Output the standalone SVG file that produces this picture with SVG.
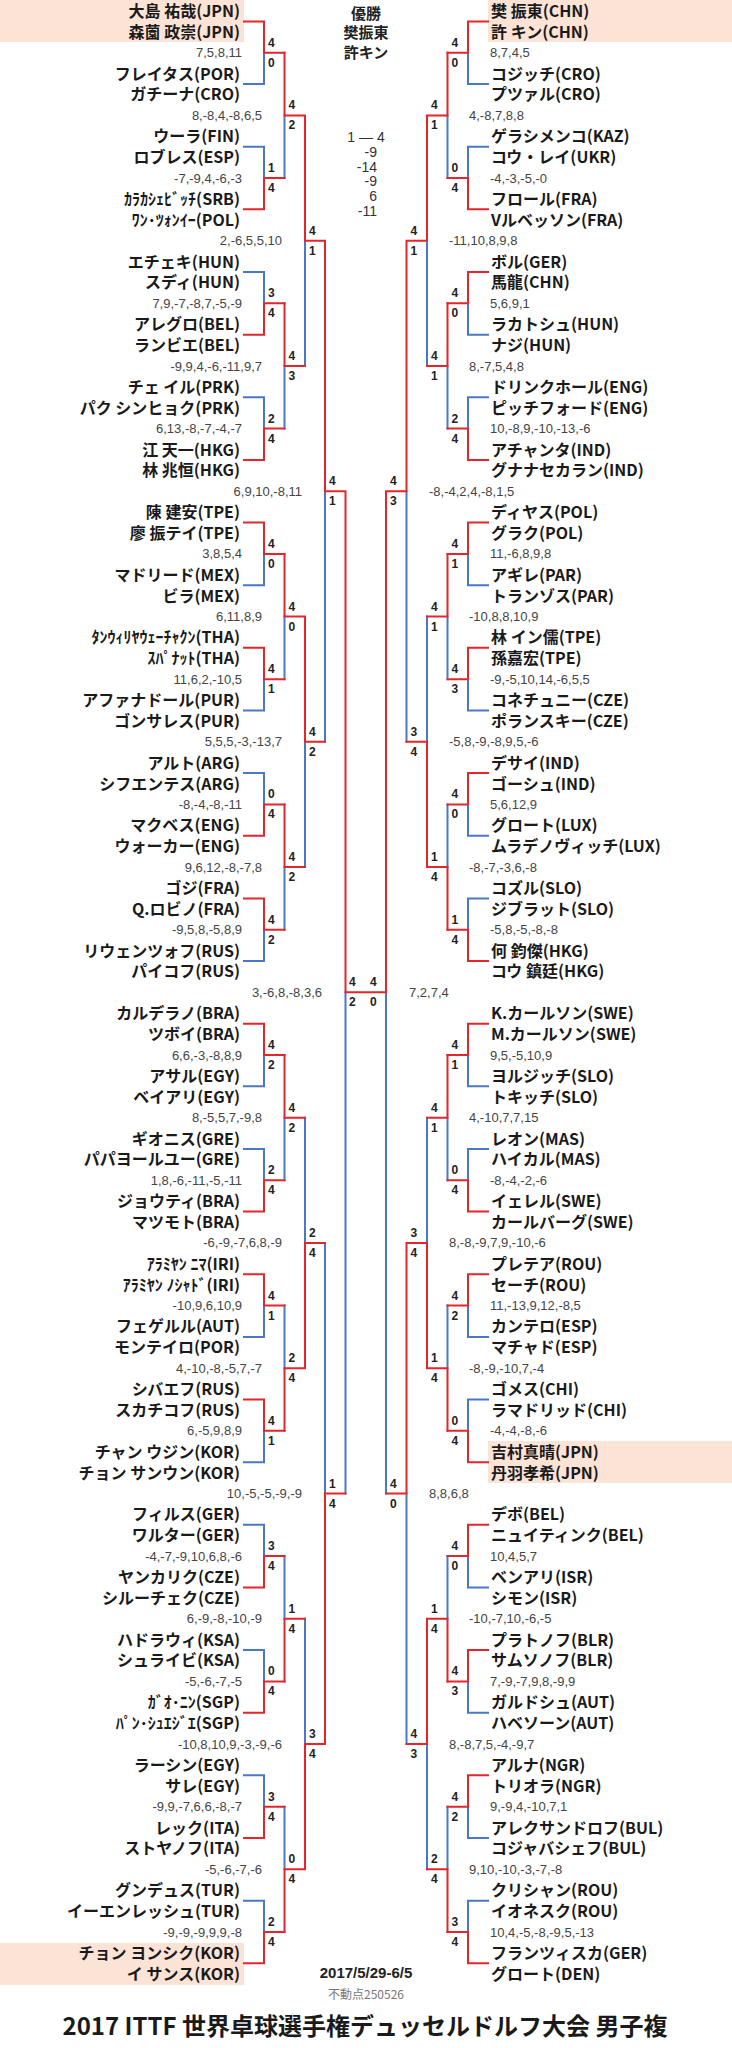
<svg xmlns="http://www.w3.org/2000/svg" width="732" height="2048" viewBox="0 0 732 2048">
<style>
.n{font-family:"Noto Sans CJK JP","Noto Sans",sans-serif;font-size:16px;font-weight:bold;fill:#1a1a1a}
.e{text-anchor:end}
.s{font-family:"Liberation Sans",Arial,sans-serif;font-size:13px;fill:#444}
.g{font-family:"Liberation Sans",Arial,sans-serif;font-size:12px;font-weight:bold;fill:#222}
.c{font-family:"Noto Sans CJK JP",sans-serif;font-size:15px;font-weight:bold;fill:#222;text-anchor:middle}
.f{font-family:"Liberation Sans",Arial,sans-serif;font-size:14px;fill:#333}
path{fill:none;stroke-width:2;stroke-linecap:square}
.r{stroke:#e3262b}
.b{stroke:#4a78c8}
.hl{fill:#fbe3d6}
</style>
<rect width="732" height="2048" fill="#fff"/>
<g id="highlights">
<rect class="hl" x="0" y="0" width="244" height="42"/>
<rect class="hl" x="0" y="1943" width="244" height="42"/>
<rect class="hl" x="488" y="0" width="244" height="42"/>
<rect class="hl" x="488" y="1441" width="244" height="42"/>
</g>
<g id="connectors" transform="matrix(1 0 0 20.88 0 11)">
<path class="b" vector-effect="non-scaling-stroke" d="M244 3.5H264V2M244 6.5H264V8M244 12.5H264V14M244 18.5H264V20M244 27.5H264V26M244 33.5H264V32M244 36.5H264V38M244 45.5H264V44M244 51.5H264V50M244 54.5H264V56M244 63.5H264V62M244 69.5H264V68M244 72.5H264V74M244 78.5H264V80M244 84.5H264V86M244 90.5H264V92"/>
<path class="b" vector-effect="non-scaling-stroke" d="M284.5 8V5M284.5 20V17M284.5 32V29M284.5 44V41M284.5 56V53M284.5 62V65M284.5 74V77M284.5 86V89M305 17V11M305 41V35M305 53V59M305 77V83M325 35V23M325 59V71M345.5 71V47"/>
<path class="b" vector-effect="non-scaling-stroke" d="M488 3.5H468V2M488 6.5H468V8M488 15.5H468V14M488 18.5H468V20M488 27.5H468V26M488 33.5H468V32M488 39.5H468V38M488 42.5H468V44M488 51.5H468V50M488 54.5H468V56M488 63.5H468V62M488 66.5H468V68M488 75.5H468V74M488 81.5H468V80M488 87.5H468V86M488 90.5H468V92"/>
<path class="b" vector-effect="non-scaling-stroke" d="M447.5 8V5M447.5 20V17M447.5 32V29M447.5 38V41M447.5 56V53M447.5 62V65M447.5 74V77M447.5 86V89M427 17V11M427 29V35M427 53V59M427 89V83M406.5 35V23M406.5 83V71M386 71V47"/>
<path class="r" vector-effect="non-scaling-stroke" d="M244 0.5H264V2H284.5M244 9.5H264V8H284.5M244 15.5H264V14H284.5M244 21.5H264V20H284.5M244 24.5H264V26H284.5M244 30.5H264V32H284.5M244 39.5H264V38H284.5M244 42.5H264V44H284.5M244 48.5H264V50H284.5M244 57.5H264V56H284.5M244 60.5H264V62H284.5M244 66.5H264V68H284.5M244 75.5H264V74H284.5M244 81.5H264V80H284.5M244 87.5H264V86H284.5M244 93.5H264V92H284.5"/>
<path class="r" vector-effect="non-scaling-stroke" d="M284.5 2V5H305M284.5 14V17H305M284.5 26V29H305M284.5 38V41H305M284.5 50V53H305M284.5 68V65H305M284.5 80V77H305M284.5 92V89H305M305 5V11H325M305 29V35H325M305 65V59H325M305 89V83H325M325 11V23H345.5M325 83V71H345.5M345.5 23V47H386"/>
<path class="r" vector-effect="non-scaling-stroke" d="M488 0.5H468V2H447.5M488 9.5H468V8H447.5M488 12.5H468V14H447.5M488 21.5H468V20H447.5M488 24.5H468V26H447.5M488 30.5H468V32H447.5M488 36.5H468V38H447.5M488 45.5H468V44H447.5M488 48.5H468V50H447.5M488 57.5H468V56H447.5M488 60.5H468V62H447.5M488 69.5H468V68H447.5M488 72.5H468V74H447.5M488 78.5H468V80H447.5M488 84.5H468V86H447.5M488 93.5H468V92H447.5"/>
<path class="r" vector-effect="non-scaling-stroke" d="M447.5 2V5H427M447.5 14V17H427M447.5 26V29H427M447.5 44V41H427M447.5 50V53H427M447.5 68V65H427M447.5 80V77H427M447.5 92V89H427M427 5V11H406.5M427 41V35H406.5M427 65V59H406.5M427 77V83H406.5M406.5 11V23H386M406.5 59V71H386M386 23V47"/>
</g>
<g id="games" class="g">
<text x="268" y="46.8">4<tspan x="268" dy="20">0</tspan></text>
<text x="268" y="172">1<tspan x="268" dy="20">4</tspan></text>
<text x="268" y="297.3">3<tspan x="268" dy="20">4</tspan></text>
<text x="268" y="422.6">2<tspan x="268" dy="20">4</tspan></text>
<text x="268" y="547.9">4<tspan x="268" dy="20">0</tspan></text>
<text x="268" y="673.2">4<tspan x="268" dy="20">1</tspan></text>
<text x="268" y="798.4">0<tspan x="268" dy="20">4</tspan></text>
<text x="268" y="923.7">4<tspan x="268" dy="20">2</tspan></text>
<text x="268" y="1049">4<tspan x="268" dy="20">2</tspan></text>
<text x="268" y="1174.3">2<tspan x="268" dy="20">4</tspan></text>
<text x="268" y="1299.6">4<tspan x="268" dy="20">1</tspan></text>
<text x="268" y="1424.8">4<tspan x="268" dy="20">1</tspan></text>
<text x="268" y="1550.1">3<tspan x="268" dy="20">4</tspan></text>
<text x="268" y="1675.4">0<tspan x="268" dy="20">4</tspan></text>
<text x="268" y="1800.7">3<tspan x="268" dy="20">4</tspan></text>
<text x="268" y="1926">2<tspan x="268" dy="20">4</tspan></text>
<text x="288.5" y="109.4">4<tspan x="288.5" dy="20">2</tspan></text>
<text x="288.5" y="360">4<tspan x="288.5" dy="20">3</tspan></text>
<text x="288.5" y="610.5">4<tspan x="288.5" dy="20">0</tspan></text>
<text x="288.5" y="861.1">4<tspan x="288.5" dy="20">2</tspan></text>
<text x="288.5" y="1111.6">4<tspan x="288.5" dy="20">2</tspan></text>
<text x="288.5" y="1362.2">2<tspan x="288.5" dy="20">4</tspan></text>
<text x="288.5" y="1612.8">1<tspan x="288.5" dy="20">4</tspan></text>
<text x="288.5" y="1863.3">0<tspan x="288.5" dy="20">4</tspan></text>
<text x="309" y="234.7">4<tspan x="309" dy="20">1</tspan></text>
<text x="309" y="735.8">4<tspan x="309" dy="20">2</tspan></text>
<text x="309" y="1236.9">2<tspan x="309" dy="20">4</tspan></text>
<text x="309" y="1738">3<tspan x="309" dy="20">4</tspan></text>
<text x="329" y="485.2">4<tspan x="329" dy="20">1</tspan></text>
<text x="329" y="1487.5">1<tspan x="329" dy="20">4</tspan></text>
<text x="349" y="986.4">4<tspan x="349" dy="20">2</tspan></text>
<text x="451.5" y="46.8">4<tspan x="451.5" dy="20">0</tspan></text>
<text x="451.5" y="172">0<tspan x="451.5" dy="20">4</tspan></text>
<text x="451.5" y="297.3">4<tspan x="451.5" dy="20">0</tspan></text>
<text x="451.5" y="422.6">2<tspan x="451.5" dy="20">4</tspan></text>
<text x="451.5" y="547.9">4<tspan x="451.5" dy="20">1</tspan></text>
<text x="451.5" y="673.2">4<tspan x="451.5" dy="20">3</tspan></text>
<text x="451.5" y="798.4">4<tspan x="451.5" dy="20">0</tspan></text>
<text x="451.5" y="923.7">1<tspan x="451.5" dy="20">4</tspan></text>
<text x="451.5" y="1049">4<tspan x="451.5" dy="20">1</tspan></text>
<text x="451.5" y="1174.3">0<tspan x="451.5" dy="20">4</tspan></text>
<text x="451.5" y="1299.6">4<tspan x="451.5" dy="20">2</tspan></text>
<text x="451.5" y="1424.8">0<tspan x="451.5" dy="20">4</tspan></text>
<text x="451.5" y="1550.1">4<tspan x="451.5" dy="20">0</tspan></text>
<text x="451.5" y="1675.4">4<tspan x="451.5" dy="20">3</tspan></text>
<text x="451.5" y="1800.7">4<tspan x="451.5" dy="20">2</tspan></text>
<text x="451.5" y="1926">3<tspan x="451.5" dy="20">4</tspan></text>
<text x="431" y="109.4">4<tspan x="431" dy="20">1</tspan></text>
<text x="431" y="360">4<tspan x="431" dy="20">1</tspan></text>
<text x="431" y="610.5">4<tspan x="431" dy="20">1</tspan></text>
<text x="431" y="861.1">1<tspan x="431" dy="20">4</tspan></text>
<text x="431" y="1111.6">4<tspan x="431" dy="20">1</tspan></text>
<text x="431" y="1362.2">1<tspan x="431" dy="20">4</tspan></text>
<text x="431" y="1612.8">1<tspan x="431" dy="20">4</tspan></text>
<text x="431" y="1863.3">2<tspan x="431" dy="20">4</tspan></text>
<text x="410.5" y="234.7">4<tspan x="410.5" dy="20">1</tspan></text>
<text x="410.5" y="735.8">3<tspan x="410.5" dy="20">4</tspan></text>
<text x="410.5" y="1236.9">3<tspan x="410.5" dy="20">4</tspan></text>
<text x="410.5" y="1738">4<tspan x="410.5" dy="20">3</tspan></text>
<text x="390" y="485.2">4<tspan x="390" dy="20">3</tspan></text>
<text x="390" y="1487.5">4<tspan x="390" dy="20">0</tspan></text>
<text x="370" y="986.4">4<tspan x="370" dy="20">0</tspan></text>
</g>
<g id="scores" class="s">
<text class="e" x="242" y="57.3">7,5,8,11</text>
<text class="e" x="262" y="119.9">8,-8,4,-8,6,5</text>
<text class="e" x="242" y="182.5">-7,-9,4,-6,-3</text>
<text class="e" x="282" y="245.2">2,-6,5,5,10</text>
<text class="e" x="242" y="307.8">7,9,-7,-8,7,-5,-9</text>
<text class="e" x="262" y="370.5">-9,9,4,-6,-11,9,7</text>
<text class="e" x="242" y="433.1">6,13,-8,-7,-4,-7</text>
<text class="e" x="302" y="495.7">6,9,10,-8,11</text>
<text class="e" x="242" y="558.4">3,8,5,4</text>
<text class="e" x="262" y="621">6,11,8,9</text>
<text class="e" x="242" y="683.7">11,6,2,-10,5</text>
<text class="e" x="282" y="746.3">5,5,5,-3,-13,7</text>
<text class="e" x="242" y="808.9">-8,-4,-8,-11</text>
<text class="e" x="262" y="871.6">9,6,12,-8,-7,8</text>
<text class="e" x="242" y="934.2">-9,5,8,-5,8,9</text>
<text class="e" x="322" y="996.9">3,-6,8,-8,3,6</text>
<text class="e" x="242" y="1059.5">6,6,-3,-8,8,9</text>
<text class="e" x="262" y="1122.1">8,-5,5,7,-9,8</text>
<text class="e" x="242" y="1184.8">1,8,-6,-11,-5,-11</text>
<text class="e" x="282" y="1247.4">-6,-9,-7,6,8,-9</text>
<text class="e" x="242" y="1310.1">-10,9,6,10,9</text>
<text class="e" x="262" y="1372.7">4,-10,-8,-5,7,-7</text>
<text class="e" x="242" y="1435.3">6,-5,9,8,9</text>
<text class="e" x="302" y="1498">10,-5,-5,-9,-9</text>
<text class="e" x="242" y="1560.6">-4,-7,-9,10,6,8,-6</text>
<text class="e" x="262" y="1623.3">6,-9,-8,-10,-9</text>
<text class="e" x="242" y="1685.9">-5,-6,-7,-5</text>
<text class="e" x="282" y="1748.5">-10,8,10,9,-3,-9,-6</text>
<text class="e" x="242" y="1811.2">-9,9,-7,6,6,-8,-7</text>
<text class="e" x="262" y="1873.8">-5,-6,-7,-6</text>
<text class="e" x="242" y="1936.5">-9,-9,-9,9,9,-8</text>
<text x="490" y="57.3">8,7,4,5</text>
<text x="469" y="119.9">4,-8,7,8,8</text>
<text x="490" y="182.5">-4,-3,-5,-0</text>
<text x="449" y="245.2">-11,10,8,9,8</text>
<text x="490" y="307.8">5,6,9,1</text>
<text x="469" y="370.5">8,-7,5,4,8</text>
<text x="490" y="433.1">10,-8,9,-10,-13,-6</text>
<text x="429" y="495.7">-8,-4,2,4,-8,1,5</text>
<text x="490" y="558.4">11,-6,8,9,8</text>
<text x="469" y="621">-10,8,8,10,9</text>
<text x="490" y="683.7">-9,-5,10,14,-6,5,5</text>
<text x="449" y="746.3">-5,8,-9,-8,9,5,-6</text>
<text x="490" y="808.9">5,6,12,9</text>
<text x="469" y="871.6">-8,-7,-3,6,-8</text>
<text x="490" y="934.2">-5,8,-5,-8,-8</text>
<text x="409" y="996.9">7,2,7,4</text>
<text x="490" y="1059.5">9,5,-5,10,9</text>
<text x="469" y="1122.1">4,-10,7,7,15</text>
<text x="490" y="1184.8">-8,-4,-2,-6</text>
<text x="449" y="1247.4">8,-8,-9,7,9,-10,-6</text>
<text x="490" y="1310.1">11,-13,9,12,-8,5</text>
<text x="469" y="1372.7">-8,-9,-10,7,-4</text>
<text x="490" y="1435.3">-4,-4,-8,-6</text>
<text x="429" y="1498">8,8,6,8</text>
<text x="490" y="1560.6">10,4,5,7</text>
<text x="469" y="1623.3">-10,-7,10,-6,-5</text>
<text x="490" y="1685.9">7,-9,-7,9,8,-9,9</text>
<text x="449" y="1748.5">8,-8,7,5,-4,-9,7</text>
<text x="490" y="1811.2">9,-9,4,-10,7,1</text>
<text x="469" y="1873.8">9,10,-10,-3,-7,-8</text>
<text x="490" y="1936.5">10,4,-5,-8,-9,5,-13</text>
</g>
<g id="left" class="n e">
<g id="L00"><text x="240" y="17">大島 祐哉(JPN)<tspan x="240" dy="20.88">森薗 政崇(JPN)</tspan></text></g>
<g id="L01"><text x="240" y="79.6">フレイタス(POR)<tspan x="240" dy="20.88">ガチーナ(CRO)</tspan></text></g>
<g id="L02"><text x="240" y="142.3">ウーラ(FIN)<tspan x="240" dy="20.88">ロブレス(ESP)</tspan></text></g>
<g id="L03"><text x="240" y="204.9">ｶﾗｶｼｪﾋﾞｯﾁ(SRB)<tspan x="240" dy="20.88">ﾜﾝ･ﾂｫﾝｲｰ(POL)</tspan></text></g>
<g id="L04"><text x="240" y="267.6">エチェキ(HUN)<tspan x="240" dy="20.88">スディ(HUN)</tspan></text></g>
<g id="L05"><text x="240" y="330.2">アレグロ(BEL)<tspan x="240" dy="20.88">ランビエ(BEL)</tspan></text></g>
<g id="L06"><text x="240" y="392.8">チェ イル(PRK)<tspan x="240" dy="20.88">パク シンヒョク(PRK)</tspan></text></g>
<g id="L07"><text x="240" y="455.5">江 天一(HKG)<tspan x="240" dy="20.88">林 兆恒(HKG)</tspan></text></g>
<g id="L08"><text x="240" y="518.1">陳 建安(TPE)<tspan x="240" dy="20.88">廖 振テイ(TPE)</tspan></text></g>
<g id="L09"><text x="240" y="580.8">マドリード(MEX)<tspan x="240" dy="20.88">ビラ(MEX)</tspan></text></g>
<g id="L10"><text x="240" y="643.4">ﾀﾝｳｨﾘﾔｳｪｰﾁｬｸﾝ(THA)<tspan x="240" dy="20.88">ｽﾊﾟﾅｯﾄ(THA)</tspan></text></g>
<g id="L11"><text x="240" y="706">アファナドール(PUR)<tspan x="240" dy="20.88">ゴンサレス(PUR)</tspan></text></g>
<g id="L12"><text x="240" y="768.7">アルト(ARG)<tspan x="240" dy="20.88">シフエンテス(ARG)</tspan></text></g>
<g id="L13"><text x="240" y="831.3">マクベス(ENG)<tspan x="240" dy="20.88">ウォーカー(ENG)</tspan></text></g>
<g id="L14"><text x="240" y="894">ゴジ(FRA)<tspan x="240" dy="20.88">Q.ロビノ(FRA)</tspan></text></g>
<g id="L15"><text x="240" y="956.6">リウェンツォフ(RUS)<tspan x="240" dy="20.88">パイコフ(RUS)</tspan></text></g>
<g id="L16"><text x="240" y="1019.2">カルデラノ(BRA)<tspan x="240" dy="20.88">ツボイ(BRA)</tspan></text></g>
<g id="L17"><text x="240" y="1081.9">アサル(EGY)<tspan x="240" dy="20.88">ベイアリ(EGY)</tspan></text></g>
<g id="L18"><text x="240" y="1144.5">ギオニス(GRE)<tspan x="240" dy="20.88">パパヨールユー(GRE)</tspan></text></g>
<g id="L19"><text x="240" y="1207.2">ジョウティ(BRA)<tspan x="240" dy="20.88">マツモト(BRA)</tspan></text></g>
<g id="L20"><text x="240" y="1269.8">ｱﾗﾐﾔﾝ ﾆﾏ(IRI)<tspan x="240" dy="20.88">ｱﾗﾐﾔﾝ ﾉｼｬﾄﾞ(IRI)</tspan></text></g>
<g id="L21"><text x="240" y="1332.4">フェゲルル(AUT)<tspan x="240" dy="20.88">モンテイロ(POR)</tspan></text></g>
<g id="L22"><text x="240" y="1395.1">シバエフ(RUS)<tspan x="240" dy="20.88">スカチコフ(RUS)</tspan></text></g>
<g id="L23"><text x="240" y="1457.7">チャン ウジン(KOR)<tspan x="240" dy="20.88">チョン サンウン(KOR)</tspan></text></g>
<g id="L24"><text x="240" y="1520.4">フィルス(GER)<tspan x="240" dy="20.88">ワルター(GER)</tspan></text></g>
<g id="L25"><text x="240" y="1583">ヤンカリク(CZE)<tspan x="240" dy="20.88">シルーチェク(CZE)</tspan></text></g>
<g id="L26"><text x="240" y="1645.6">ハドラウィ(KSA)<tspan x="240" dy="20.88">シュライビ(KSA)</tspan></text></g>
<g id="L27"><text x="240" y="1708.3">ｶﾞｵ･ﾆﾝ(SGP)<tspan x="240" dy="20.88">ﾊﾟﾝ･ｼｭｴｼﾞｴ(SGP)</tspan></text></g>
<g id="L28"><text x="240" y="1770.9">ラーシン(EGY)<tspan x="240" dy="20.88">サレ(EGY)</tspan></text></g>
<g id="L29"><text x="240" y="1833.6">レック(ITA)<tspan x="240" dy="20.88">ストヤノフ(ITA)</tspan></text></g>
<g id="L30"><text x="240" y="1896.2">グンデュス(TUR)<tspan x="240" dy="20.88">イーエンレッシュ(TUR)</tspan></text></g>
<g id="L31"><text x="240" y="1958.8">チョン ヨンシク(KOR)<tspan x="240" dy="20.88">イ サンス(KOR)</tspan></text></g>
</g>
<g id="right" class="n">
<g id="R00"><text x="491" y="17">樊 振東(CHN)<tspan x="491" dy="20.88">許 キン(CHN)</tspan></text></g>
<g id="R01"><text x="491" y="79.6">コジッチ(CRO)<tspan x="491" dy="20.88">プツァル(CRO)</tspan></text></g>
<g id="R02"><text x="491" y="142.3">ゲラシメンコ(KAZ)<tspan x="491" dy="20.88">コウ・レイ(UKR)</tspan></text></g>
<g id="R03"><text x="491" y="204.9">フロール(FRA)<tspan x="491" dy="20.88">Vルベッソン(FRA)</tspan></text></g>
<g id="R04"><text x="491" y="267.6">ボル(GER)<tspan x="491" dy="20.88">馬龍(CHN)</tspan></text></g>
<g id="R05"><text x="491" y="330.2">ラカトシュ(HUN)<tspan x="491" dy="20.88">ナジ(HUN)</tspan></text></g>
<g id="R06"><text x="491" y="392.8">ドリンクホール(ENG)<tspan x="491" dy="20.88">ピッチフォード(ENG)</tspan></text></g>
<g id="R07"><text x="491" y="455.5">アチャンタ(IND)<tspan x="491" dy="20.88">グナナセカラン(IND)</tspan></text></g>
<g id="R08"><text x="491" y="518.1">ディヤス(POL)<tspan x="491" dy="20.88">グラク(POL)</tspan></text></g>
<g id="R09"><text x="491" y="580.8">アギレ(PAR)<tspan x="491" dy="20.88">トランゾス(PAR)</tspan></text></g>
<g id="R10"><text x="491" y="643.4">林 イン儒(TPE)<tspan x="491" dy="20.88">孫嘉宏(TPE)</tspan></text></g>
<g id="R11"><text x="491" y="706">コネチュニー(CZE)<tspan x="491" dy="20.88">ポランスキー(CZE)</tspan></text></g>
<g id="R12"><text x="491" y="768.7">デサイ(IND)<tspan x="491" dy="20.88">ゴーシュ(IND)</tspan></text></g>
<g id="R13"><text x="491" y="831.3">グロート(LUX)<tspan x="491" dy="20.88">ムラデノヴィッチ(LUX)</tspan></text></g>
<g id="R14"><text x="491" y="894">コズル(SLO)<tspan x="491" dy="20.88">ジブラット(SLO)</tspan></text></g>
<g id="R15"><text x="491" y="956.6">何 鈞傑(HKG)<tspan x="491" dy="20.88">コウ 鎮廷(HKG)</tspan></text></g>
<g id="R16"><text x="491" y="1019.2">K.カールソン(SWE)<tspan x="491" dy="20.88">M.カールソン(SWE)</tspan></text></g>
<g id="R17"><text x="491" y="1081.9">ヨルジッチ(SLO)<tspan x="491" dy="20.88">トキッチ(SLO)</tspan></text></g>
<g id="R18"><text x="491" y="1144.5">レオン(MAS)<tspan x="491" dy="20.88">ハイカル(MAS)</tspan></text></g>
<g id="R19"><text x="491" y="1207.2">イェレル(SWE)<tspan x="491" dy="20.88">カールバーグ(SWE)</tspan></text></g>
<g id="R20"><text x="491" y="1269.8">プレテア(ROU)<tspan x="491" dy="20.88">セーチ(ROU)</tspan></text></g>
<g id="R21"><text x="491" y="1332.4">カンテロ(ESP)<tspan x="491" dy="20.88">マチャド(ESP)</tspan></text></g>
<g id="R22"><text x="491" y="1395.1">ゴメス(CHI)<tspan x="491" dy="20.88">ラマドリッド(CHI)</tspan></text></g>
<g id="R23"><text x="491" y="1457.7">吉村真晴(JPN)<tspan x="491" dy="20.88">丹羽孝希(JPN)</tspan></text></g>
<g id="R24"><text x="491" y="1520.4">デボ(BEL)<tspan x="491" dy="20.88">ニュイティンク(BEL)</tspan></text></g>
<g id="R25"><text x="491" y="1583">ベンアリ(ISR)<tspan x="491" dy="20.88">シモン(ISR)</tspan></text></g>
<g id="R26"><text x="491" y="1645.6">プラトノフ(BLR)<tspan x="491" dy="20.88">サムソノフ(BLR)</tspan></text></g>
<g id="R27"><text x="491" y="1708.3">ガルドシュ(AUT)<tspan x="491" dy="20.88">ハベソーン(AUT)</tspan></text></g>
<g id="R28"><text x="491" y="1770.9">アルナ(NGR)<tspan x="491" dy="20.88">トリオラ(NGR)</tspan></text></g>
<g id="R29"><text x="491" y="1833.6">アレクサンドロフ(BUL)<tspan x="491" dy="20.88">コジャバシェフ(BUL)</tspan></text></g>
<g id="R30"><text x="491" y="1896.2">クリシャン(ROU)<tspan x="491" dy="20.88">イオネスク(ROU)</tspan></text></g>
<g id="R31"><text x="491" y="1958.8">フランツィスカ(GER)<tspan x="491" dy="20.88">グロート(DEN)</tspan></text></g>
</g>
<g id="champion">
<text class="c" x="366" y="18.5">優勝<tspan x="366" dy="19.6">樊振東</tspan><tspan x="366" dy="19.6">許キン</tspan></text>
</g>
<g id="final-score" class="f">
<text x="366" y="142" text-anchor="middle">1 — 4</text>
<text x="377" y="157" text-anchor="end">-9<tspan x="377" dy="14.6">-14</tspan><tspan x="377" dy="14.6">-9</tspan><tspan x="377" dy="14.8">6</tspan><tspan x="377" dy="14.8">-11</tspan></text>
</g>
<g id="footer">
<text x="366" y="1978" text-anchor="middle" font-family="Liberation Sans, Arial, sans-serif" font-size="15" font-weight="bold" fill="#222">2017/5/29-6/5</text>
<text x="366" y="1999" text-anchor="middle" font-family="Noto Sans CJK JP, sans-serif" font-size="12" fill="#777">不動点250526</text>
<text x="365" y="2035" text-anchor="middle" font-family="Noto Sans CJK JP, sans-serif" font-size="24" font-weight="bold" fill="#1a1a1a">2017 ITTF 世界卓球選手権デュッセルドルフ大会 男子複</text>
</g>
</svg>
